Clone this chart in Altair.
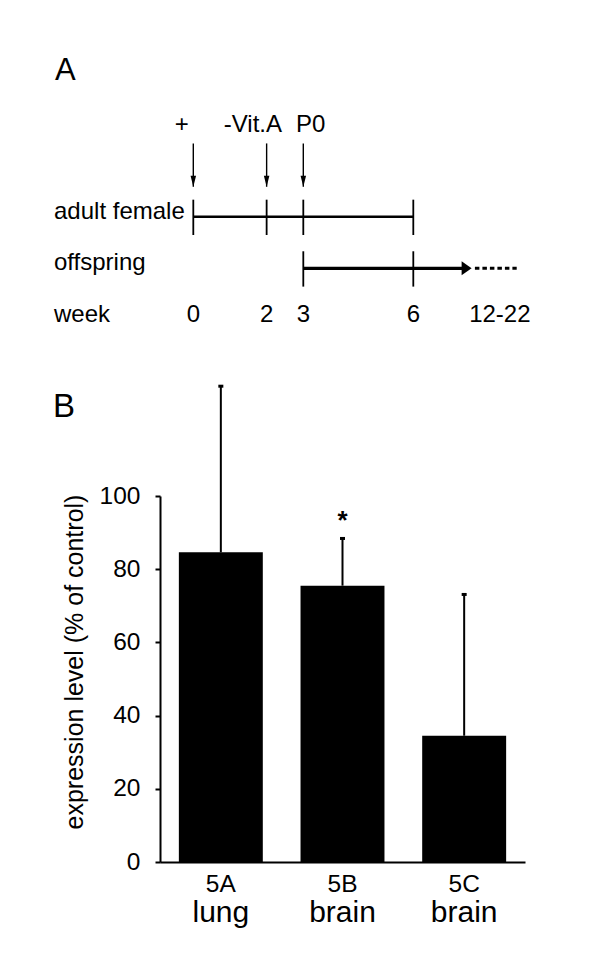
import altair as alt
import pandas as pd

FONT = "Liberation Sans"

# ---------------- data: panel A (timeline) ----------------
EVENT_WEEKS = [0, 2, 3]
EVENT_LABELS = ["+", "-Vit.A", "P0"]
ADULT_SPAN = [0, 6]
ADULT_TICK_WEEKS = [0, 2, 3, 6]
OFFSPRING_SPAN = [3, 7.4]          # solid arrow (display position on broken time axis)
OFFSPRING_HEAD = 7.59              # arrow tip
OFFSPRING_DASH = [7.68, 8.82]      # dotted continuation
OFFSPRING_TICK_WEEKS = [3, 6]
ROW_LABELS = ["adult female", "offspring", "week"]
WEEK_LABELS = ["0", "2", "3", "6", "12-22"]
WEEK_LABEL_POS = [0, 2, 3, 6, 8.36]

# ---------------- data: panel B (bars) ----------------
SAMPLES = ["5A", "5B", "5C"]
TISSUES = ["lung", "brain", "brain"]
MEANS = [84.6, 75.5, 34.5]
ERRORS = [45.4, 12.9, 38.6]
SIGNIF = ["", "*", ""]

# ---------------- layout ----------------
PLOT_W, PLOT_H = 365, 366
PAD = {"left": 152, "top": 488, "right": 67, "bottom": 86}
WEEK_RANGE = [33.3, 253.3]        # pixel x of week 0 and week 6
ROW_RANGE = [-279.3, -227.7]      # pixel y of row 0 and row 1 (above bar plot)
TICK_UP, TICK_DOWN = 0.33, 0.355
ARROW_TOP, ARROW_TIP = -1.42, -0.58
LABEL_ROW = -1.65
EVENT_DX = [-11.6, -13.7, 7.4]

xA = alt.Scale(domain=[0, 6], range=WEEK_RANGE, nice=False, zero=False)
yA = alt.Scale(domain=[0, 1], range=ROW_RANGE, nice=False, zero=False)


def X(field):
    return alt.X(field, type="quantitative", scale=xA, axis=None)


def Y(field):
    return alt.Y(field, type="quantitative", scale=yA, axis=None)


# adult female line + ticks
adult_line = alt.Chart(pd.DataFrame({"s": [ADULT_SPAN[0]], "e": [ADULT_SPAN[1]], "row": [0]})).mark_rule(
    color="black", strokeWidth=2.5).encode(x=X("s"), x2="e:Q", y=Y("row"))

adult_ticks_df = pd.DataFrame({"week": ADULT_TICK_WEEKS})
adult_ticks_df["top"] = 0 - TICK_UP
adult_ticks_df["bot"] = 0 + TICK_DOWN
adult_ticks = alt.Chart(adult_ticks_df).mark_rule(color="black", strokeWidth=1.8).encode(
    x=X("week"), y=Y("top"), y2="bot:Q")

# event arrows
ev_df = pd.DataFrame({"week": EVENT_WEEKS, "label": EVENT_LABELS})
ev_df["top"] = ARROW_TOP
ev_df["tip"] = ARROW_TIP
arrows = alt.Chart(ev_df).mark_rule(color="black", strokeWidth=1.4).encode(
    x=X("week"), y=Y("top"), y2="tip:Q")
heads = alt.Chart(ev_df).mark_point(
    shape="M -0.5 -2 L 0.5 -2 L 0 0 Z", size=121, filled=True, color="black", opacity=1, strokeWidth=0
).encode(x=X("week"), y=Y("tip"))

ev_labels = []
for i, (w, lab) in enumerate(zip(EVENT_WEEKS, EVENT_LABELS)):
    ev_labels.append(
        alt.Chart(pd.DataFrame({"week": [w], "label": [lab], "row": [LABEL_ROW]})).mark_text(
            font=FONT, fontSize=24, color="black", baseline="alphabetic", align="center", dx=EVENT_DX[i]
        ).encode(x=X("week"), y=Y("row"), text="label:N")
    )

# offspring arrow
off_line = alt.Chart(pd.DataFrame({"s": [OFFSPRING_SPAN[0]], "e": [OFFSPRING_SPAN[1]], "row": [1]})).mark_rule(
    color="black", strokeWidth=3.2).encode(x=X("s"), x2="e:Q", y=Y("row"))
off_head = alt.Chart(pd.DataFrame({"week": [OFFSPRING_HEAD], "row": [1]})).mark_point(
    shape="M -2 -1.4 L 0 0 L -2 1.4 Z", size=100, filled=True, color="black", opacity=1, strokeWidth=0
).encode(x=X("week"), y=Y("row"))
off_dash = alt.Chart(pd.DataFrame({"s": [OFFSPRING_DASH[0]], "e": [OFFSPRING_DASH[1]], "row": [1]})).mark_rule(
    color="black", strokeWidth=3, strokeDash=[4.5, 3]).encode(x=X("s"), x2="e:Q", y=Y("row"))
off_ticks_df = pd.DataFrame({"week": OFFSPRING_TICK_WEEKS})
off_ticks_df["top"] = 1 - TICK_UP
off_ticks_df["bot"] = 1 + TICK_DOWN
off_ticks = alt.Chart(off_ticks_df).mark_rule(color="black", strokeWidth=1.8).encode(
    x=X("week"), y=Y("top"), y2="bot:Q")

# row labels and week numbers
row_labels = alt.Chart(pd.DataFrame({"label": ROW_LABELS, "row": list(range(len(ROW_LABELS)))})).mark_text(
    font=FONT, fontSize=24, color="black", align="left", baseline="alphabetic", dy=2
).encode(x=alt.value(-106), y=Y("row"), text="label:N")

wk_df = pd.DataFrame({"label": WEEK_LABELS, "week": WEEK_LABEL_POS})
wk_df["row"] = ROW_LABELS.index("week")
week_labels = alt.Chart(wk_df).mark_text(
    font=FONT, fontSize=24, color="black", align="center", baseline="alphabetic", dy=2
).encode(x=X("week"), y=Y("row"), text="label:N")

panelA = alt.layer(adult_line, adult_ticks, arrows, heads, *ev_labels,
                   off_line, off_head, off_dash, off_ticks, row_labels, week_labels)

# ---------------- panel B ----------------
b_df = pd.DataFrame({"sample": SAMPLES, "tissue": TISSUES, "mean": MEANS, "err": ERRORS, "sig": SIGNIF})
b_df["upper"] = b_df["mean"] + b_df["err"]
b_df["zero"] = 0

xB = alt.Scale(domain=SAMPLES, paddingInner=0.31, paddingOuter=0.155)
yB = alt.Scale(domain=[0, 100], nice=False, zero=True)

x_axis = alt.Axis(orient="bottom", labels=False, ticks=False, domainColor="black", domainWidth=2,
                  title=None, grid=False)
y_axis = alt.Axis(orient="left", values=list(range(0, 101, 10)),
                  labelExpr="datum.value % 20 == 0 ? datum.label : ''",
                  labelOverlap=False, grid=False, domainColor="black", domainWidth=2,
                  tickColor="black", tickWidth=2, tickSize=5, labelFontSize=24.5, labelFont=FONT,
                  labelColor="black", labelPadding=15,
                  title="expression level (% of control)", titleFont=FONT, titleFontSize=25,
                  titleFontWeight="normal", titleColor="black", titleX=-73, titleY=165.5)

baseB = alt.Chart(b_df)
bars = baseB.mark_bar(color="black").encode(
    x=alt.X("sample:N", scale=xB, axis=x_axis, sort=SAMPLES),
    y=alt.Y("mean:Q", scale=yB, axis=y_axis))
err = baseB.mark_rule(color="black", strokeWidth=2).encode(x="sample:N", y="mean:Q", y2="upper:Q")
caps = baseB.mark_tick(color="black", orient="horizontal", size=5, thickness=3, opacity=1).encode(
    x="sample:N", y="upper:Q")
star = baseB.mark_text(font=FONT, fontSize=26, fontWeight="bold", color="black",
                       baseline="alphabetic", dy=-9.5).encode(x="sample:N", y="upper:Q", text="sig:N")
samp_labels = baseB.mark_text(font=FONT, fontSize=24.5, color="black", baseline="alphabetic", dy=29.7).encode(
    x="sample:N", y="zero:Q", text="sample:N")
tissue_labels = baseB.mark_text(font=FONT, fontSize=30, color="black", baseline="alphabetic", dy=59.7).encode(
    x="sample:N", y="zero:Q", text="tissue:N")

panelB = alt.layer(bars, err, caps, star, samp_labels, tissue_labels)

# panel letters
letter_A = alt.Chart(pd.DataFrame({"t": ["A"]})).mark_text(
    font=FONT, fontSize=31, color="black", align="left", baseline="alphabetic"
).encode(text="t:N", x=alt.value(-105), y=alt.value(-416))
letter_B = alt.Chart(pd.DataFrame({"t": ["B"]})).mark_text(
    font=FONT, fontSize=33, color="black", align="left", baseline="alphabetic"
).encode(text="t:N", x=alt.value(-107), y=alt.value(-79))

chart = alt.layer(panelA, panelB, letter_A, letter_B).resolve_scale(
    x="independent", y="independent"
).properties(
    width=PLOT_W, height=PLOT_H, padding=PAD,
    autosize=alt.AutoSizeParams(type="none"), background="white"
).configure_view(stroke=None)

chart.save("out.html", embed_options={"renderer": "svg", "actions": False})
